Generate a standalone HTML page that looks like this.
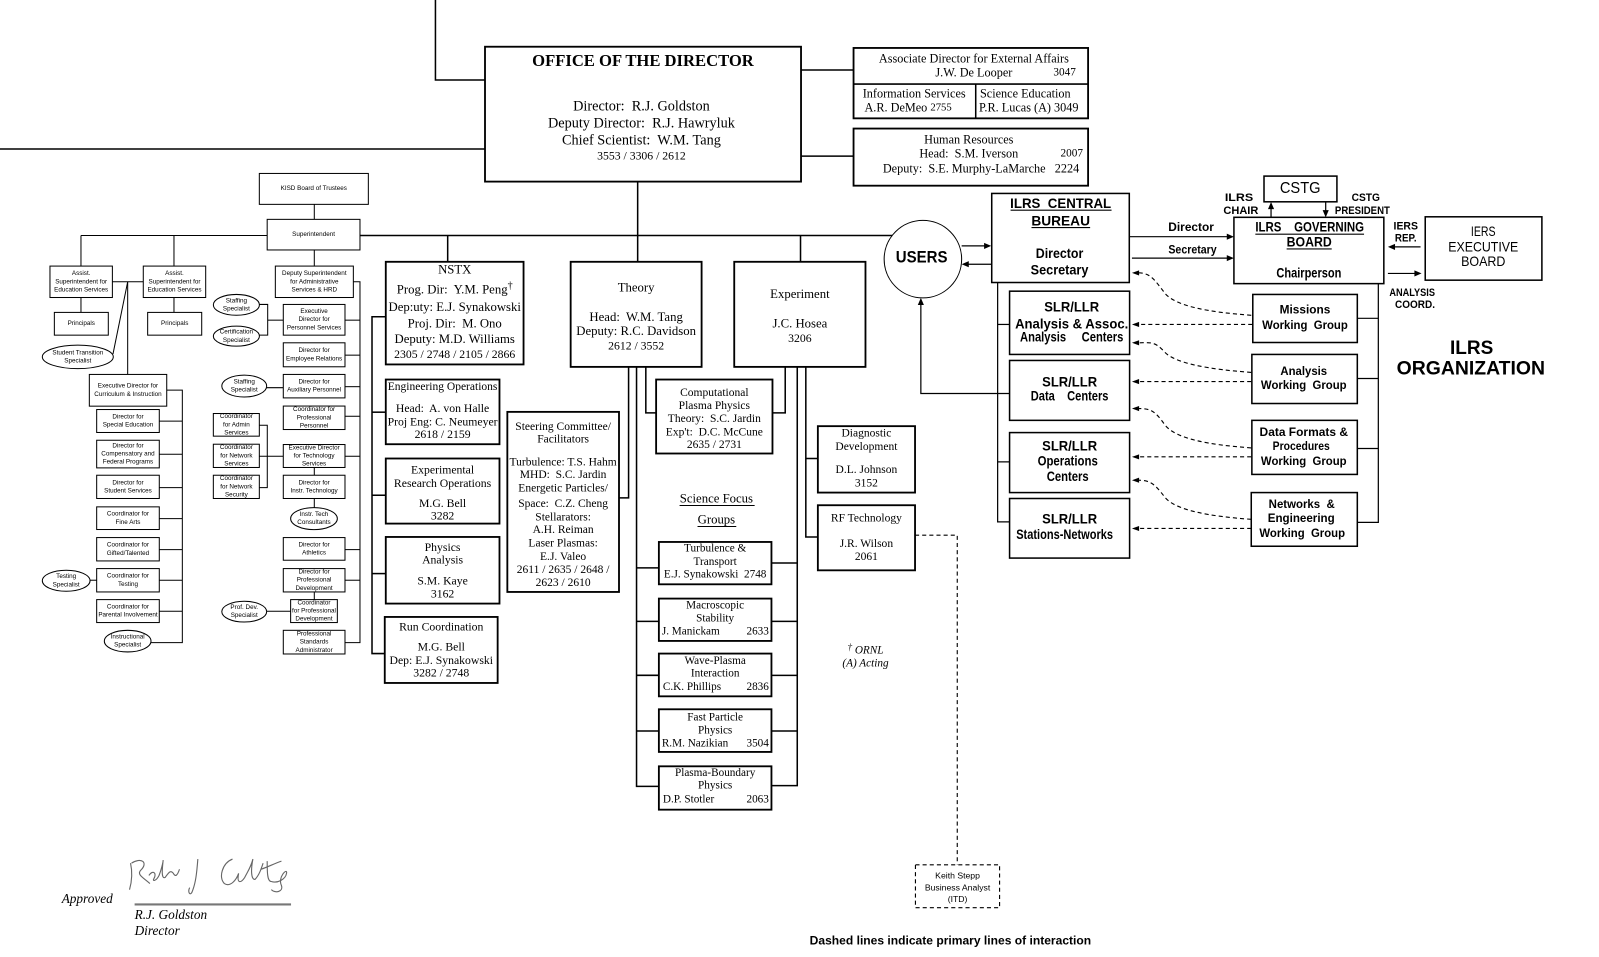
<!DOCTYPE html>
<html><head><meta charset="utf-8">
<style>
html,body{margin:0;padding:0;background:#fff;}
svg{display:block}
text{dominant-baseline:central;fill:#000;white-space:pre}
.s{font-family:"Liberation Serif",serif;}
.a{font-family:"Liberation Sans",sans-serif;}
.b{font-family:"Liberation Sans",sans-serif;font-weight:bold;}
.t{font-family:"Liberation Sans",sans-serif;font-size:6.2px;}
</style></head><body>
<svg width="1599" height="957" viewBox="0 0 1568 938" preserveAspectRatio="none" xmlns="http://www.w3.org/2000/svg" xml:space="preserve">
<rect x="0" y="0" width="1568" height="938" fill="#fff"/>

<!-- ===== MAIN CONNECTOR LINES ===== -->
<g stroke="#000" stroke-width="1.5" fill="none">
<path d="M427,0 V78.4 H475.6"/>
<path d="M0,146 H475.6"/>
<path d="M785.5,68.6 H837"/>
<path d="M785.5,153 H837"/>
<path d="M625.3,178 V256.6"/>
<path d="M262,230.8 H875"/>
<path d="M439,230.8 V256.6"/>
<path d="M785,230.8 V256.6"/>
<path d="M378.3,310.5 H364.8 V640.6 H377.3"/>
<path d="M364.8,404 H378.3"/>
<path d="M364.8,485.4 H378.3"/>
<path d="M364.8,562.2 H378.3"/>
<path d="M616.4,359.6 V488 H607"/>
<path d="M624.2,359.6 V770.8 H646.1"/>
<path d="M624.2,556.6 H646.1"/>
<path d="M624.2,609 H646.1"/>
<path d="M624.2,661.9 H646.1"/>
<path d="M624.2,716.5 H646.1"/>
<path d="M633.3,359.6 V404.7 H643.4"/>
<path d="M770,359.6 V404.7 H757.5"/>
<path d="M781.8,359.6 V770 H756.5"/>
<path d="M781.8,551.8 H756.5"/>
<path d="M781.8,609 H756.5"/>
<path d="M781.8,662 H756.5"/>
<path d="M781.8,716.5 H756.5"/>
<path d="M790.2,359.6 V526.3 H802"/>
<path d="M790.2,449.4 H802"/>
</g>

<!-- ===== LEFT SECTION LINES ===== -->
<g stroke="#000" stroke-width="1" fill="none">
<path d="M79.4,230.8 H262"/>
<path d="M308.2,200.3 V215"/>
<path d="M79.4,230.8 V260.8"/>
<path d="M170.6,230.8 V260.8"/>
<path d="M110.2,276.2 H140.5"/>
<path d="M125.2,276.2 V367"/>
<path d="M125.2,276.2 L110.8,347"/>
<path d="M79.4,291.6 V306.2"/>
<path d="M170.6,291.6 V306.2"/>
<path d="M163.5,382.4 H178.8 V629.9 H148.1"/>
<path d="M156.2,412.8 H178.8"/>
<path d="M156.2,445.2 H178.8"/>
<path d="M156.2,477.9 H178.8"/>
<path d="M156.2,508.3 H178.8"/>
<path d="M156.2,538.7 H178.8"/>
<path d="M156.2,568.7 H178.8"/>
<path d="M156.2,599.1 H178.8"/>
<path d="M88.3,568.7 H94.8"/>
<path d="M308.2,245 V260.8"/>
<path d="M346.5,276.2 H353 V629.9 H338.3"/>
<path d="M338.3,313.8 H353"/>
<path d="M338.3,348.1 H353"/>
<path d="M338.3,379 H353"/>
<path d="M338.3,408 H353"/>
<path d="M338.3,447.2 H353"/>
<path d="M338.3,538.7 H353"/>
<path d="M338.3,568.7 H353"/>
<path d="M254.3,298.4 H262.5 V328.5 H254.3"/>
<path d="M262.5,313.8 H277.8"/>
<path d="M261.5,380 H277.8"/>
<path d="M254.3,416.8 H262.1 V477.9 H254.3"/>
<path d="M254.3,447.2 H277.8"/>
<path d="M308.2,458.2 V465.8"/>
<path d="M308.2,488.6 V497.5"/>
<path d="M308.2,580.2 V587.7"/>
<path d="M261.5,599.1 H285"/>
</g>

<!-- ===== LEFT SECTION BOXES ===== -->
<g stroke="#000" stroke-width="1" fill="#fff">
<rect x="254.3" y="170" width="106.9" height="30.3"/>
<rect x="262" y="215" width="91" height="30"/>
<rect x="49" y="260.8" width="61.2" height="30.8"/>
<rect x="140.5" y="260.8" width="61.2" height="30.8"/>
<rect x="53.3" y="306.2" width="52.9" height="22.3"/>
<rect x="144.8" y="306.2" width="53" height="22.3"/>
<ellipse cx="76.3" cy="349.8" rx="34.8" ry="11.5"/>
<rect x="87.6" y="367" width="75.9" height="31.1"/>
<rect x="94.8" y="401.4" width="61.4" height="22.5"/>
<rect x="94.8" y="431.5" width="61.4" height="27.1"/>
<rect x="94.8" y="465.8" width="61.4" height="22.8"/>
<rect x="94.8" y="496.8" width="61.4" height="22.2"/>
<rect x="94.8" y="526.9" width="61.4" height="22.9"/>
<rect x="94.8" y="557.3" width="61.4" height="22.9"/>
<rect x="94.8" y="587.7" width="61.4" height="22.5"/>
<ellipse cx="64.9" cy="569.2" rx="23.4" ry="10.3"/>
<ellipse cx="125.2" cy="628.4" rx="22.9" ry="10.6"/>
<rect x="270" y="260.8" width="76.5" height="30.8"/>
<rect x="277.8" y="298.4" width="60.5" height="30.1"/>
<rect x="277.8" y="336" width="60.5" height="23.5"/>
<rect x="277.8" y="367" width="60.5" height="23"/>
<rect x="277.8" y="398" width="60.5" height="23"/>
<rect x="277.8" y="435.7" width="60.5" height="22.5"/>
<rect x="277.8" y="465.8" width="60.5" height="22.8"/>
<ellipse cx="307.9" cy="508.3" rx="22.9" ry="10.8"/>
<rect x="277.8" y="526.9" width="60.5" height="22.2"/>
<rect x="277.8" y="557.3" width="60.5" height="22.9"/>
<rect x="285" y="587.7" width="45.8" height="22.5"/>
<rect x="277.8" y="617.8" width="60.5" height="23.2"/>
<ellipse cx="231.8" cy="298.8" rx="22.6" ry="10.2"/>
<ellipse cx="231.8" cy="329.5" rx="22.6" ry="9.8"/>
<ellipse cx="239.5" cy="378.4" rx="22" ry="10.7"/>
<rect x="209.2" y="405.3" width="45.1" height="22.2"/>
<rect x="209.2" y="435.4" width="45.1" height="22.8"/>
<rect x="209.2" y="465.8" width="45.1" height="22.8"/>
<ellipse cx="239.5" cy="599.5" rx="22" ry="10.2"/>
</g>

<!-- LEFT SECTION TEXT -->
<g class="t" text-anchor="middle">
<text x="307.7" y="185">KISD Board of Trustees</text>
<text x="307.5" y="230">Superintendent</text>
<text x="79.6" y="268.2">Assist.</text><text x="79.6" y="276.2">Superintendent for</text><text x="79.6" y="284.2">Education Services</text>
<text x="171.1" y="268.2">Assist.</text><text x="171.1" y="276.2">Superintendent for</text><text x="171.1" y="284.2">Education Services</text>
<text x="79.7" y="317.3">Principals</text>
<text x="171.3" y="317.3">Principals</text>
<text x="76.3" y="345.8">Student Transition</text><text x="76.3" y="353.8">Specialist</text>
<text x="125.5" y="378.5">Executive Director for</text><text x="125.5" y="386.5">Curriculum &amp; Instruction</text>
<text x="125.5" y="408.7">Director for</text><text x="125.5" y="416.7">Special Education</text>
<text x="125.5" y="437">Director for</text><text x="125.5" y="445">Compensatory and</text><text x="125.5" y="453">Federal Programs</text>
<text x="125.5" y="473.2">Director for</text><text x="125.5" y="481.2">Student Services</text>
<text x="125.5" y="503.9">Coordinator for</text><text x="125.5" y="511.9">Fine Arts</text>
<text x="125.5" y="534.3">Coordinator for</text><text x="125.5" y="542.3">Gifted/Talented</text>
<text x="125.5" y="564.7">Coordinator for</text><text x="125.5" y="572.7">Testing</text>
<text x="125.5" y="594.9">Coordinator for</text><text x="125.5" y="602.9">Parental Involvement</text>
<text x="64.9" y="565.2">Testing</text><text x="64.9" y="573.2">Specialist</text>
<text x="125.2" y="624.4">Instructional</text><text x="125.2" y="632.4">Specialist</text>
<text x="308.2" y="268.2">Deputy Superintendent</text><text x="308.2" y="276.2">for Administrative</text><text x="308.2" y="284.2">Services &amp; HRD</text>
<text x="308" y="305.4">Executive</text><text x="308" y="313.4">Director for</text><text x="308" y="321.4">Personnel Services</text>
<text x="308" y="343.7">Director for</text><text x="308" y="351.7">Employee Relations</text>
<text x="308" y="374.5">Director for</text><text x="308" y="382.5">Auxiliary Personnel</text>
<text x="308" y="401.5">Coordinator for</text><text x="308" y="409.5">Professional</text><text x="308" y="417.5">Personnel</text>
<text x="308" y="439">Executive Director</text><text x="308" y="447">for Technology</text><text x="308" y="455">Services</text>
<text x="308" y="473.2">Director for</text><text x="308" y="481.2">Instr. Technology</text>
<text x="307.9" y="504.3">Instr. Tech</text><text x="307.9" y="512.3">Consultants</text>
<text x="308" y="534">Director for</text><text x="308" y="542">Athletics</text>
<text x="308" y="560.7">Director for</text><text x="308" y="568.7">Professional</text><text x="308" y="576.7">Development</text>
<text x="307.9" y="590.9">Coordinator</text><text x="307.9" y="598.9">for Professional</text><text x="307.9" y="606.9">Development</text>
<text x="308" y="621.4">Professional</text><text x="308" y="629.4">Standards</text><text x="308" y="637.4">Administrator</text>
<text x="231.8" y="294.8">Staffing</text><text x="231.8" y="302.8">Specialist</text>
<text x="231.8" y="325.5">Certification</text><text x="231.8" y="333.5">Specialist</text>
<text x="239.5" y="374.4">Staffing</text><text x="239.5" y="382.4">Specialist</text>
<text x="231.8" y="408.4">Coordinator</text><text x="231.8" y="416.4">for Admin</text><text x="231.8" y="424.4">Services</text>
<text x="231.8" y="438.8">Coordinator</text><text x="231.8" y="446.8">for Network</text><text x="231.8" y="454.8">Services</text>
<text x="231.8" y="469.2">Coordinator</text><text x="231.8" y="477.2">for Network</text><text x="231.8" y="485.2">Security</text>
<text x="239.5" y="595.5">Prof. Dev.</text><text x="239.5" y="603.5">Specialist</text>
</g>

<!-- ===== CENTER BOXES ===== -->
<g stroke="#000" stroke-width="1.8" fill="#fff">
<rect x="475.6" y="45.8" width="309.9" height="132.2"/>
<rect x="837" y="47" width="230" height="69"/>
<rect x="837" y="126" width="230" height="56"/>
<rect x="378.3" y="256.6" width="135.1" height="100.6"/>
<rect x="378.3" y="372" width="111.5" height="63.4"/>
<rect x="378.3" y="449.4" width="111.5" height="63.8"/>
<rect x="378.3" y="526.3" width="111.5" height="65.3"/>
<rect x="377.3" y="604.7" width="110.7" height="64.7"/>
<rect x="559.6" y="256.6" width="128.4" height="103"/>
<rect x="720" y="256.6" width="128.7" height="103"/>
<rect x="497.5" y="403.7" width="109.5" height="176.5"/>
<rect x="643.4" y="372" width="114.1" height="72.5"/>
<rect x="802" y="417.7" width="95.3" height="65.1"/>
<rect x="802" y="495.2" width="95.3" height="63.8"/>
<rect x="646.1" y="531.2" width="110.4" height="41.5"/>
<rect x="646.1" y="586.7" width="110.4" height="41.5"/>
<rect x="646.1" y="640.6" width="110.4" height="41.9"/>
<rect x="646.1" y="695.2" width="110.4" height="41.8"/>
<rect x="646.1" y="751.1" width="110.4" height="42.5"/>
</g>
<g stroke="#000" stroke-width="1.5" fill="none">
<path d="M837,82.4 H1067"/>
<path d="M956.8,82.4 V116"/>
</g>

<!-- OFFICE TEXT -->
<g class="s" text-anchor="middle">
<text x="630.5" y="59.5" font-size="16.3" font-weight="bold">OFFICE OF THE DIRECTOR</text>
<text x="629" y="104.6" font-size="14">Director:  R.J. Goldston</text>
<text x="629" y="121" font-size="14">Deputy Director:  R.J. Hawryluk</text>
<text x="629" y="137.6" font-size="14">Chief Scientist:  W.M. Tang</text>
<text x="629" y="153" font-size="11.5">3553 / 3306 / 2612</text>
</g>
<g class="s" font-size="12">
<text x="955" y="57.2" text-anchor="middle">Associate Director for External Affairs</text>
<text x="955" y="71.3" text-anchor="middle">J.W. De Looper</text>
<text x="1033" y="71.3" font-size="11">3047</text>
<text x="846" y="91.5">Information Services</text>
<text x="847.7" y="105.2">A.R. DeMeo <tspan font-size="10.5">2755</tspan></text>
<text x="961" y="91.5">Science Education</text>
<text x="960" y="105.2">P.R. Lucas (A) 3049</text>
<text x="950" y="136.6" text-anchor="middle">Human Resources</text>
<text x="950" y="150.4" text-anchor="middle">Head:  S.M. Iverson</text>
<text x="1040" y="150.4" font-size="11">2007</text>
<text x="962" y="165" text-anchor="middle">Deputy:  S.E. Murphy-LaMarche   2224</text>
</g>

<!-- NSTX etc TEXT -->
<g class="s" font-size="12.5" text-anchor="middle">
<text x="445.9" y="264">NSTX</text>
<text x="445.9" y="284">Prog. Dir:  Y.M. Peng<tspan font-size="10" dy="-4">†</tspan></text>
<text x="445.9" y="300.7">Dep:uty: E.J. Synakowski</text>
<text x="445.9" y="317">Proj. Dir:  M. Ono</text>
<text x="445.9" y="332.4">Deputy: M.D. Williams</text>
<text x="445.9" y="347.4" font-size="11.5">2305 / 2748 / 2105 / 2866</text>

<text x="434" y="379.2" font-size="11.3">Engineering Operations</text>
<text x="434" y="400.4" font-size="11.5">Head:  A. von Halle</text>
<text x="434" y="413.5" font-size="11.5">Proj Eng: C. Neumeyer</text>
<text x="434" y="425.9" font-size="11.5">2618 / 2159</text>

<text x="434" y="460.9" font-size="11.5">Experimental</text>
<text x="434" y="474" font-size="11.5">Research Operations</text>
<text x="434" y="493.6" font-size="11.5">M.G. Bell</text>
<text x="434" y="506" font-size="11.5">3282</text>

<text x="434" y="536.7" font-size="11.5">Physics</text>
<text x="434" y="549.1" font-size="11.5">Analysis</text>
<text x="434" y="569.4" font-size="11.5">S.M. Kaye</text>
<text x="434" y="582.2" font-size="11.5">3162</text>

<text x="432.7" y="614.5" font-size="11.5">Run Coordination</text>
<text x="432.7" y="634.1" font-size="11.5">M.G. Bell</text>
<text x="432.7" y="647.2" font-size="11.5">Dep: E.J. Synakowski</text>
<text x="432.7" y="659.6" font-size="11.5">3282 / 2748</text>

<text x="623.8" y="281.8">Theory</text>
<text x="623.8" y="310.5">Head:  W.M. Tang</text>
<text x="623.8" y="324.3">Deputy: R.C. Davidson</text>
<text x="623.8" y="339.3" font-size="11.5">2612 / 3552</text>

<text x="784.4" y="288.3">Experiment</text>
<text x="784.4" y="317">J.C. Hosea</text>
<text x="784.4" y="331.8" font-size="11.5">3206</text>

<g font-size="11.3">
<text x="552.2" y="418.4">Steering Committee/</text>
<text x="552.2" y="430.8">Facilitators</text>
<text x="552.2" y="453.3">Turbulence: T.S. Hahm</text>
<text x="552.2" y="465.8">MHD:  S.C. Jardin</text>
<text x="552.2" y="478.8">Energetic Particles/</text>
<text x="552.2" y="494.2">Space:  C.Z. Cheng</text>
<text x="552.2" y="507.3">Stellarators:</text>
<text x="552.2" y="519.7">A.H. Reiman</text>
<text x="552.2" y="532.8">Laser Plasmas:</text>
<text x="552.2" y="545.9">E.J. Valeo</text>
<text x="552.2" y="558.9">2611 / 2635 / 2648 /</text>
<text x="552.2" y="571.4">2623 / 2610</text>
</g>

<g font-size="11.3">
<text x="700.5" y="385">Computational</text>
<text x="700.5" y="397.8">Plasma Physics</text>
<text x="700.5" y="410.9">Theory:  S.C. Jardin</text>
<text x="700.5" y="424">Exp't:  D.C. McCune</text>
<text x="700.5" y="436.4">2635 / 2731</text>
</g>

<g font-size="11.3">
<text x="849.6" y="425">Diagnostic</text>
<text x="849.6" y="438">Development</text>
<text x="849.6" y="460.9">D.L. Johnson</text>
<text x="849.6" y="474">3152</text>
<text x="849.6" y="508.3">RF Technology</text>
<text x="849.6" y="533.4">J.R. Wilson</text>
<text x="849.6" y="545.9">2061</text>
</g>

<text x="702.5" y="488.7" font-size="12.5">Science Focus</text>
<text x="702.5" y="509.2" font-size="12.5">Groups</text>

<g font-size="11">
<text x="701.3" y="537.7">Turbulence &amp;</text>
<text x="701.3" y="550.8">Transport</text>
<text x="701.3" y="563.2">E.J. Synakowski  2748</text>
<text x="701.3" y="593.3">Macroscopic</text>
<text x="701.3" y="606">Stability</text>
<text x="649" y="619.1" text-anchor="start">J. Manickam</text>
<text x="754" y="619.1" text-anchor="end">2633</text>
<text x="701.3" y="647.8">Wave-Plasma</text>
<text x="701.3" y="660.3">Interaction</text>
<text x="650" y="673.3" text-anchor="start">C.K. Phillips</text>
<text x="754" y="673.3" text-anchor="end">2836</text>
<text x="701.3" y="703.4">Fast Particle</text>
<text x="701.3" y="715.8">Physics</text>
<text x="649" y="728.9" text-anchor="start">R.M. Nazikian</text>
<text x="754" y="728.9" text-anchor="end">3504</text>
<text x="701.3" y="757.7">Plasma-Boundary</text>
<text x="701.3" y="770">Physics</text>
<text x="650" y="783.5" text-anchor="start">D.P. Stotler</text>
<text x="754" y="783.5" text-anchor="end">2063</text>
</g>
</g>
<g stroke="#000" stroke-width="1">
<line x1="666.4" y1="495.5" x2="740" y2="495.5"/>
<line x1="684" y1="516" x2="722" y2="516"/>
</g>

<text class="s" x="848.7" y="637.4" font-size="11" font-style="italic" text-anchor="middle"><tspan font-size="9" dy="-3">†</tspan><tspan dy="3"> ORNL</tspan></text>
<text class="s" x="848.7" y="650.5" font-size="11" font-style="italic" text-anchor="middle">(A) Acting</text>

<!-- RF dashed to Keith -->
<g stroke="#000" stroke-width="1.1" fill="none" stroke-dasharray="4 3">
<path d="M897.3,524.6 H938.7 V847.6"/>
<rect x="897.7" y="847.6" width="82.5" height="42.1"/>
</g>
<g class="a" font-size="8.5" text-anchor="middle">
<text x="939" y="858">Keith Stepp</text>
<text x="939" y="870">Business Analyst</text>
<text x="939" y="881">(ITD)</text>
</g>

<!-- ===== ILRS SECTION ===== -->
<g stroke="#000" stroke-width="1.2" fill="none">
<circle cx="905" cy="254" r="38" stroke-width="1"/>
<path d="M943,241 H967"/>
<path d="M972,259 H948"/>
<path d="M1107.4,232 H1205"/>
<path d="M1110,253 H1205"/>
<path d="M1246.4,213 V203"/>
<path d="M1300,197.8 V208"/>
<path d="M1393,242 H1366"/>
<path d="M1361,268 H1389"/>
<path d="M978.3,276.9 V511.5 H990"/>
<path d="M978.3,318 H990"/>
<path d="M978.3,452.7 H990"/>
<path d="M990,385.7 H903 V297"/>
<path d="M1351.6,278 V512 H1331"/>
<path d="M1331,312 H1351.6"/>
<path d="M1331,371 H1351.6"/>
<path d="M1331,439.6 H1351.6"/>
</g>
<g stroke="#000" stroke-width="1.5" fill="#fff">
<rect x="972.5" y="189.6" width="134.9" height="87.3"/>
<rect x="1210" y="213" width="147" height="65"/>
<rect x="1239.5" y="172.6" width="71.5" height="25.2"/>
<rect x="1397.6" y="212.5" width="114.4" height="62.1"/>
<rect x="990" y="285.4" width="117.7" height="62"/>
<rect x="990" y="353.3" width="117.7" height="58.7"/>
<rect x="990" y="424" width="117.7" height="58.8"/>
<rect x="990" y="488.6" width="117.7" height="58.4"/>
<rect x="1228.5" y="288.6" width="102.5" height="47.1"/>
<rect x="1227.6" y="347.4" width="103.4" height="48.1"/>
<rect x="1227.6" y="412" width="103.4" height="53"/>
<rect x="1227" y="482.8" width="104" height="52.6"/>
</g>
<g stroke="#000" stroke-width="1.1" fill="none" stroke-dasharray="4 3">
<path d="M1228,318 H1116"/>
<path d="M1227,374 H1116"/>
<path d="M1227,447.8 H1116"/>
<path d="M1227,518 H1116"/>
<path d="M1227,309 C1185,306 1152,300 1142,287 S1128,267.4 1116,267.4"/>
<path d="M1227,365 C1185,362 1152,356 1142,345 S1128,336 1116,336"/>
<path d="M1227,439 C1185,436 1152,430 1142,416 S1128,400.4 1116,400.4"/>
<path d="M1227,509 C1185,506 1152,500 1142,487 S1128,470.7 1116,470.7"/>
</g>
<g fill="#000">
<polygon points="972,241 965,238 965,244"/>
<polygon points="943,259 950,256 950,262"/>
<polygon points="1210,232 1203,229 1203,235"/>
<polygon points="1210,253 1203,250 1203,256"/>
<polygon points="1246.4,198 1243.4,205 1249.4,205"/>
<polygon points="1300,213 1297,206 1303,206"/>
<polygon points="1361,242 1368,239 1368,245"/>
<polygon points="1394,268 1387,265 1387,271"/>
<polygon points="903,292 900,299 906,299"/>
<polygon points="1110,267.4 1117,265 1117,270"/>
<polygon points="1110,318 1117,315.5 1117,320.5"/>
<polygon points="1110,336 1117,333.5 1117,338.5"/>
<polygon points="1110,374 1117,371.5 1117,376.5"/>
<polygon points="1110,400.4 1117,398 1117,403"/>
<polygon points="1110,447.8 1117,445.3 1117,450.3"/>
<polygon points="1110,470.7 1117,468.2 1117,473.2"/>
<polygon points="1110,518 1117,515.5 1117,520.5"/>
</g>

<g class="b" text-anchor="middle">
<text x="903.8" y="252.3" font-size="16" textLength="50.7" lengthAdjust="spacingAndGlyphs">USERS</text>
<text x="1040.1" y="199.4" font-size="13.5" textLength="99" lengthAdjust="spacingAndGlyphs">ILRS  CENTRAL</text>
<text x="1040.1" y="216.4" font-size="13.5" textLength="57.5" lengthAdjust="spacingAndGlyphs">BUREAU</text>
<text x="1039" y="248.4" font-size="13.5" textLength="46.7" lengthAdjust="spacingAndGlyphs">Director</text>
<text x="1039" y="264.8" font-size="13.5" textLength="56.6" lengthAdjust="spacingAndGlyphs">Secretary</text>
<text x="1168" y="222.9" font-size="11.5" textLength="44.7" lengthAdjust="spacingAndGlyphs">Director</text>
<text x="1169.4" y="245.1" font-size="11.5" textLength="47.4" lengthAdjust="spacingAndGlyphs">Secretary</text>
<text x="1275" y="184.7" font-size="15.5" font-weight="normal" textLength="39.9" lengthAdjust="spacingAndGlyphs">CSTG</text>
<text x="1215" y="194" font-size="11" textLength="27.8" lengthAdjust="spacingAndGlyphs">ILRS</text>
<text x="1216.8" y="207" font-size="11" textLength="34.3" lengthAdjust="spacingAndGlyphs">CHAIR</text>
<text x="1339.3" y="194" font-size="11" textLength="27.8" lengthAdjust="spacingAndGlyphs">CSTG</text>
<text x="1336" y="207" font-size="11" textLength="53.9" lengthAdjust="spacingAndGlyphs">PRESIDENT</text>
<text x="1284.3" y="222.3" font-size="13.5" textLength="106.6" lengthAdjust="spacingAndGlyphs">ILRS    GOVERNING</text>
<text x="1283.8" y="237" font-size="13.5" textLength="44.2" lengthAdjust="spacingAndGlyphs">BOARD</text>
<text x="1283.5" y="267.4" font-size="13.5" textLength="63.7" lengthAdjust="spacingAndGlyphs">Chairperson</text>
<text x="1378.5" y="222" font-size="11" textLength="23.9" lengthAdjust="spacingAndGlyphs">IERS</text>
<text x="1378.5" y="233.7" font-size="11" textLength="21.2" lengthAdjust="spacingAndGlyphs">REP.</text>
<text x="1454.5" y="227.2" font-size="14" font-weight="normal" textLength="24.2" lengthAdjust="spacingAndGlyphs">IERS</text>
<text x="1454.5" y="242.5" font-size="14" font-weight="normal" textLength="68.7" lengthAdjust="spacingAndGlyphs">EXECUTIVE</text>
<text x="1454.5" y="256.6" font-size="14" font-weight="normal" textLength="43.5" lengthAdjust="spacingAndGlyphs">BOARD</text>
<text x="1384.8" y="287" font-size="10.5" textLength="44.8" lengthAdjust="spacingAndGlyphs">ANALYSIS</text>
<text x="1387.6" y="299" font-size="10.5" textLength="39.2" lengthAdjust="spacingAndGlyphs">COORD.</text>
<text x="1443.1" y="341" font-size="19" textLength="42.5" lengthAdjust="spacingAndGlyphs">ILRS</text>
<text x="1442.3" y="361.2" font-size="19" textLength="145.5" lengthAdjust="spacingAndGlyphs">ORGANIZATION</text>

<text x="1050.9" y="300.7" font-size="13.5" textLength="53.9" lengthAdjust="spacingAndGlyphs">SLR/LLR</text>
<text x="1050.9" y="317.7" font-size="13.5" textLength="111" lengthAdjust="spacingAndGlyphs">Analysis &amp; Assoc.</text>
<text x="1050.9" y="330.1" font-size="13.5" textLength="101.3" lengthAdjust="spacingAndGlyphs">Analysis     Centers</text>
<text x="1048.9" y="374.3" font-size="13.5" textLength="53.9" lengthAdjust="spacingAndGlyphs">SLR/LLR</text>
<text x="1048.9" y="388.3" font-size="13.5" textLength="76.2" lengthAdjust="spacingAndGlyphs">Data    Centers</text>
<text x="1048.9" y="437" font-size="13.5" textLength="53.9" lengthAdjust="spacingAndGlyphs">SLR/LLR</text>
<text x="1047" y="452" font-size="13.5" textLength="59.1" lengthAdjust="spacingAndGlyphs">Operations</text>
<text x="1047" y="466.8" font-size="13.5" textLength="41.2" lengthAdjust="spacingAndGlyphs">Centers</text>
<text x="1048.9" y="508.9" font-size="13.5" textLength="53.9" lengthAdjust="spacingAndGlyphs">SLR/LLR</text>
<text x="1044" y="524" font-size="13.5" textLength="95" lengthAdjust="spacingAndGlyphs">Stations-Networks</text>

<text x="1279.7" y="303.6" font-size="12" textLength="49.7" lengthAdjust="spacingAndGlyphs">Missions</text>
<text x="1279.7" y="318.7" font-size="12" textLength="84" lengthAdjust="spacingAndGlyphs">Working  Group</text>
<text x="1278.5" y="363.5" font-size="12" textLength="45.8" lengthAdjust="spacingAndGlyphs">Analysis</text>
<text x="1278.5" y="377.5" font-size="12" textLength="84" lengthAdjust="spacingAndGlyphs">Working  Group</text>
<text x="1278.5" y="423.3" font-size="12" textLength="86.7" lengthAdjust="spacingAndGlyphs">Data Formats &amp;</text>
<text x="1276" y="437" font-size="12" textLength="56" lengthAdjust="spacingAndGlyphs">Procedures</text>
<text x="1278.5" y="451.7" font-size="12" textLength="84" lengthAdjust="spacingAndGlyphs">Working  Group</text>
<text x="1276.5" y="494.2" font-size="12" textLength="64.8" lengthAdjust="spacingAndGlyphs">Networks  &amp;</text>
<text x="1276" y="507.6" font-size="12" textLength="65.7" lengthAdjust="spacingAndGlyphs">Engineering</text>
<text x="1277" y="522.3" font-size="12" textLength="84" lengthAdjust="spacingAndGlyphs">Working  Group</text>

<text x="932" y="921.8" font-size="12" textLength="276" lengthAdjust="spacingAndGlyphs">Dashed lines indicate primary lines of interaction</text>
</g>
<g stroke="#000" stroke-width="1.1">
<line x1="991" y1="206" x2="1090" y2="206"/>
<line x1="1011.5" y1="223" x2="1069" y2="223"/>
<line x1="1231" y1="229.5" x2="1337.6" y2="229.5"/>
<line x1="1261.7" y1="244" x2="1305.9" y2="244"/>
</g>

<!-- ===== SIGNATURE ===== -->
<text class="s" x="60.5" y="880.9" font-size="13" font-style="italic">Approved</text>
<line x1="132" y1="886.5" x2="285.4" y2="886.5" stroke="#777" stroke-width="2"/>
<text class="s" x="132" y="896.3" font-size="13" font-style="italic">R.J. Goldston</text>
<text class="s" x="132" y="912" font-size="13" font-style="italic">Director</text>
<g stroke="#666" stroke-width="1.1" fill="none">
<path d="M128,846 C130,855 129,865 127,872 M129,846 C138,840 146,845 138,853 C134,857 140,860 147,866"/>
<path d="M146,858 C150,852 154,856 151,861 C149,864 153,864 156,858 C158,853 160,845 160,843 C159,852 158,862 162,860 C165,856 167,852 170,856 C172,860 174,858 176,852"/>
<path d="M194,842 C193,855 192,866 188,875 C186,878 184,874 186,870"/>
<path d="M228,842 C218,846 214,860 220,866 C226,870 232,862 234,856 C232,866 236,866 240,860 C243,854 246,850 248,842 C246,852 246,862 250,862 C254,858 256,852 258,846"/>
<path d="M256,852 C262,850 270,846 276,844 M262,844 C262,854 262,864 266,864 C272,866 280,862 281,856 C282,850 272,860 276,868 C278,874 270,876 266,872"/>
</g>
</svg>
</body></html>
